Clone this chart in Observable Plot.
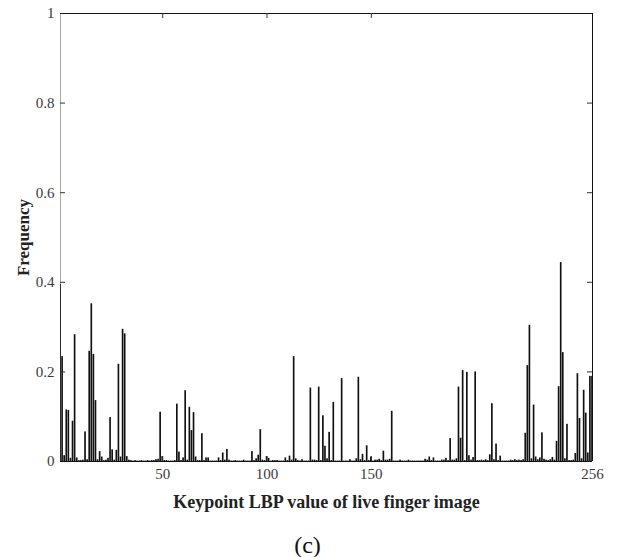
<!DOCTYPE html>
<html>
<head>
<meta charset="utf-8">
<script src="https://cdn.jsdelivr.net/npm/d3@7"></script>
<script src="https://cdn.jsdelivr.net/npm/@observablehq/plot@0.6"></script>
<style>
  html, body { margin: 0; padding: 0; background: #fff; }
  #chart { width: 621px; height: 557px; }
</style>
</head>
<body>
<div id="chart"></div>
<script>
// LBP histogram values (bins 1..256)
const frequency = [
  0.395, 0.234, 0.013, 0.115, 0.114, 0.007, 0.090, 0.283, 0.008, 0.002,
  0.002, 0.003, 0.066, 0.004, 0.246, 0.352, 0.239, 0.136, 0.004, 0.022,
  0.010, 0.002, 0.003, 0.007, 0.098, 0.026, 0.003, 0.025, 0.217, 0.010,
  0.295, 0.285, 0.011, 0.003, 0.002, 0.001, 0.002, 0.001, 0.001, 0.002,
  0.001, 0.001, 0.002, 0.001, 0.002, 0.002, 0.004, 0.005, 0.110, 0.011,
  0.002, 0.002, 0.001, 0.001, 0.001, 0.002, 0.128, 0.021, 0.002, 0.008,
  0.158, 0.003, 0.121, 0.069, 0.109, 0.010, 0.002, 0.002, 0.062, 0.002,
  0.008, 0.008, 0.001, 0.001, 0.001, 0.001, 0.008, 0.002, 0.019, 0.003,
  0.027, 0.003, 0.001, 0.001, 0.002, 0.001, 0.001, 0.001, 0.003, 0.001,
  0.001, 0.001, 0.022, 0.002, 0.006, 0.014, 0.071, 0.003, 0.002, 0.011,
  0.007, 0.001, 0.002, 0.002, 0.002, 0.001, 0.001, 0.001, 0.008, 0.002,
  0.012, 0.003, 0.234, 0.006, 0.002, 0.001, 0.004, 0.001, 0.001, 0.001,
  0.164, 0.003, 0.003, 0.002, 0.166, 0.002, 0.102, 0.034, 0.006, 0.065,
  0.002, 0.132, 0.001, 0.001, 0.001, 0.185, 0.001, 0.001, 0.001, 0.004,
  0.001, 0.001, 0.006, 0.188, 0.004, 0.016, 0.002, 0.035, 0.002, 0.010,
  0.001, 0.003, 0.003, 0.005, 0.002, 0.023, 0.003, 0.003, 0.005, 0.112,
  0.001, 0.001, 0.001, 0.003, 0.001, 0.001, 0.001, 0.003, 0.001, 0.001,
  0.001, 0.001, 0.001, 0.001, 0.001, 0.005, 0.003, 0.010, 0.002, 0.008,
  0.001, 0.001, 0.001, 0.003, 0.003, 0.007, 0.002, 0.051, 0.003, 0.003,
  0.006, 0.166, 0.052, 0.203, 0.002, 0.199, 0.013, 0.003, 0.009, 0.200,
  0.002, 0.002, 0.003, 0.002, 0.004, 0.002, 0.015, 0.129, 0.004, 0.039,
  0.002, 0.012, 0.001, 0.001, 0.001, 0.001, 0.003, 0.002, 0.004, 0.002,
  0.003, 0.002, 0.004, 0.063, 0.214, 0.304, 0.006, 0.126, 0.010, 0.004,
  0.008, 0.064, 0.005, 0.003, 0.002, 0.004, 0.009, 0.003, 0.045, 0.167,
  0.444, 0.243, 0.006, 0.083, 0.002, 0.002, 0.003, 0.018, 0.196, 0.096,
  0.006, 0.159, 0.108, 0.019, 0.190, 0.190
];
const lbpValue = d3.range(1, frequency.length + 1);
const xTicks = [50, 100, 150, 256];
const yTicks = [0, 0.2, 0.4, 0.6, 0.8, 1];
const xLabel = "Keypoint LBP value of live finger image";
const yLabel = "Frequency";
const caption = "(c)";

const data = lbpValue.map((v, i) => ({lbp: v, freq: frequency[i]}));

const serif = "'Liberation Serif', 'DejaVu Serif', serif";
const W = 621, H = 557, mL = 60, mR = 29, mT = 13, mB = 96;
const fw = W - mL - mR, fh = H - mT - mB, tick = 5;

const chart = Plot.plot({
  width: W, height: H,
  marginLeft: mL, marginRight: mR, marginTop: mT, marginBottom: mB,
  style: {fontFamily: serif, fontSize: "14px", color: "#333", background: "#fff"},
  x: {type: "linear", domain: [1, 256]},
  y: {domain: [0, 1]},
  marks: [
    Plot.ruleX([1], {stroke: "#a8a8a8", strokeWidth: 1}),
    Plot.rectY(data, {x1: d => d.lbp - 0.4, x2: d => d.lbp + 0.4, y: "freq", fill: "#111", clip: true}),
    Plot.ruleY([0], {stroke: "#111"}),
    Plot.ruleY([1], {stroke: "#111"}),
    Plot.ruleX([256], {stroke: "#111"}),
    Plot.ruleY(yTicks.slice(1, -1), {y: d => d, insetRight: fw - tick, stroke: "#333"}),
    Plot.ruleY(yTicks.slice(1, -1), {y: d => d, insetLeft: fw - tick, stroke: "#333"}),
    Plot.ruleX(xTicks.slice(0, -1), {x: d => d, insetTop: fh - tick, stroke: "#333"}),
    Plot.ruleX(xTicks.slice(0, -1), {x: d => d, insetBottom: fh - tick, stroke: "#333"}),
    Plot.axisY(yTicks, {anchor: "left", tickSize: 0, tickPadding: 6, label: null,
      tickFormat: d => String(+d.toFixed(1)), fill: "#3a3a3a", fontSize: 15, fontFamily: serif}),
    Plot.axisX(xTicks, {anchor: "bottom", tickSize: 0, tickPadding: 7, label: null,
      tickFormat: d => String(d), fill: "#3a3a3a", fontSize: 15, fontFamily: serif}),
    Plot.text([yLabel], {frameAnchor: "left", dx: -37, rotate: -90, text: d => d,
      textAnchor: "middle", lineAnchor: "middle",
      fontWeight: "bold", fontSize: 17, fontFamily: serif, fill: "#222"}),
    Plot.text([xLabel], {frameAnchor: "bottom", dy: 41, text: d => d,
      textAnchor: "middle", lineAnchor: "middle",
      fontWeight: "bold", fontSize: 18, fontFamily: serif, fill: "#222"}),
    Plot.text([caption], {frameAnchor: "bottom", dy: 84, dx: -19, text: d => d,
      textAnchor: "middle", lineAnchor: "middle",
      fontSize: 24, fontFamily: serif, fill: "#111"})
  ]
});
document.getElementById("chart").appendChild(chart);
</script>
</body>
</html>
